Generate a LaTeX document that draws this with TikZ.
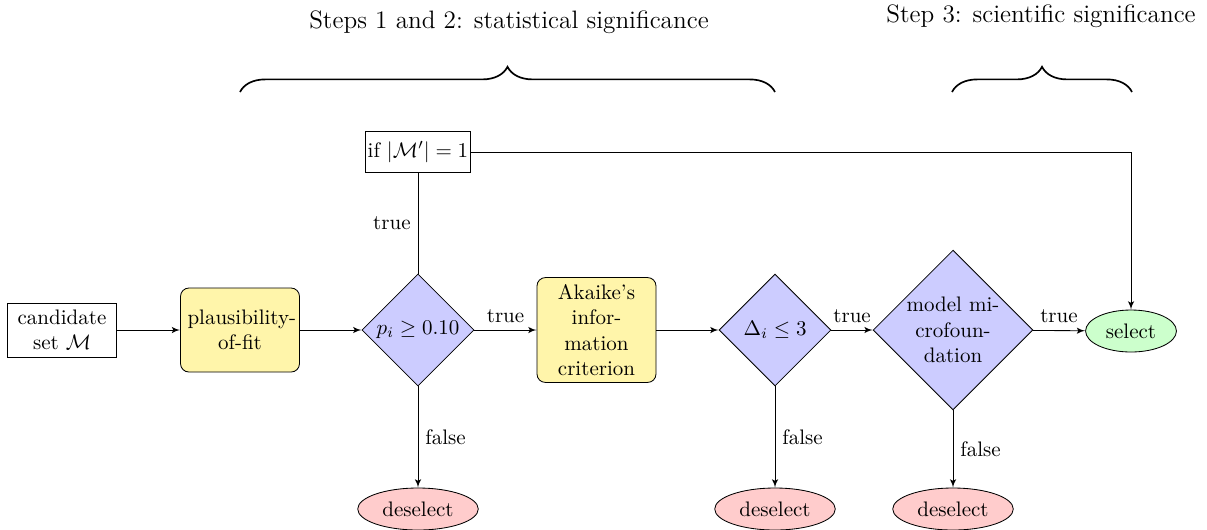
\documentclass[tikz,border=0pt]{standalone}
\usepackage{amsmath,amssymb}
\usetikzlibrary{shapes.geometric,arrows,decorations.pathreplacing}
\definecolor{blockyellow}{RGB}{255,245,170}
\begin{document}
\begin{tikzpicture}[x=0.47619pt,y=-0.47619pt,
  decisionnode/.style={diamond, draw, fill=blue!20, text width=4.5em, text badly centered, inner sep=0pt},
  blocknode/.style={rectangle, draw, fill=blockyellow, text width=5em, text centered, rounded corners, minimum height=4em},
  plainbox/.style={rectangle, draw, align=center},
  cloudnode/.style={draw, ellipse, minimum height=2em},
  conn/.style={draw, -latex'},
  bracestyle/.style={decorate, decoration={brace, amplitude=12pt}, thick},
  titletext/.style={font=\large, anchor=base}]
\useasboundingbox (0,0) rectangle (1207,529);
% titles
\node[titletext] (t1) at (509,28) {Steps 1 and 2: statistical significance};
\node[titletext] (t2) at (1041,22) {Step 3: scientific significance};
% braces
\coordinate (b1l) at (240,92);
\coordinate (b1r) at (775,92);
\coordinate (b2l) at (952,92);
\coordinate (b2r) at (1132,92);
\draw[bracestyle] (b1l) -- (b1r);
\draw[bracestyle] (b2l) -- (b2r);
% nodes
\node[plainbox, minimum width=51.8pt, minimum height=25.7pt, inner sep=2pt] (cand) at (62,330) {candidate\\set $\mathcal{M}$};
\node[blocknode] (plaus) at (240,330) {plausibility-of-fit};
\node[decisionnode] (pdec) at (418,330) {$p_i \geq 0.10$};
\node[blocknode] (aic) at (596.5,330) {Akaike's information criterion};
\node[decisionnode] (ddec) at (775,330) {$\Delta_i \leq 3$};
\node[decisionnode] (mdec) at (953,330) {model microfoundation};
\node[cloudnode, fill=green!20] (sel) at (1131,331) {select};
\node[plainbox, inner sep=1pt, minimum height=19.7pt] (ifbox) at (418,152) {if $|\mathcal{M}'| = 1$};
\node[cloudnode, fill=red!20] (des1) at (418,509) {deselect};
\node[cloudnode, fill=red!20] (des2) at (775,509) {deselect};
\node[cloudnode, fill=red!20] (des3) at (953,509) {deselect};
% connectors
\path[conn] (cand) -- (plaus);
\path[conn] (plaus) -- (pdec);
\path[conn] (pdec) -- node[above] {true} (aic);
\path[conn] (aic) -- (ddec);
\path[conn] (ddec) -- node[above] {true} (mdec);
\path[conn] (mdec) -- node[above] {true} (sel);
\path[conn] (pdec) -- node[right] {false} (des1);
\path[conn] (ddec) -- node[right] {false} (des2);
\path[conn] (mdec) -- node[right] {false} (des3);
\draw (pdec) -- node[left] {true} (ifbox);
\path[conn] (ifbox) -| (sel);
\end{tikzpicture}
\end{document}
